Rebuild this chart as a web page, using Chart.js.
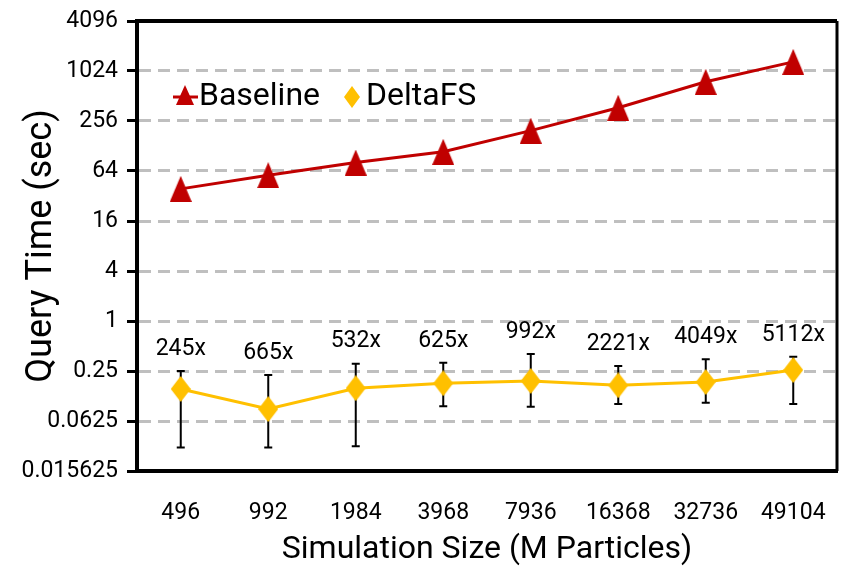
<!DOCTYPE html>
<html>
<head>
<meta charset="utf-8">
<script src="https://cdn.jsdelivr.net/npm/chart.js@4"></script>
<style>
  html, body { margin: 0; padding: 0; background: #fff; }
  #wrap { width: 844px; height: 571px; }
</style>
</head>
<body>
<div id="wrap"><canvas id="chart" width="844" height="571"></canvas></div>
<script>
// Data
const sizes = ["496", "992", "1984", "3968", "7936", "16368", "32736", "49104"];
const baseline = [39, 57, 81, 109, 196, 370, 760, 1320];
const deltafs = [0.152, 0.087, 0.155, 0.178, 0.19, 0.168, 0.184, 0.257];
const deltaLow = [0.030, 0.030, 0.031, 0.094, 0.093, 0.10, 0.104, 0.10];
const deltaHigh = [0.25, 0.224, 0.306, 0.314, 0.40, 0.287, 0.346, 0.37];
const speedups = ["245x", "665x", "532x", "625x", "992x", "2221x", "4049x", "5112x"];
const yTicks = [0.015625, 0.0625, 0.25, 1, 4, 16, 64, 256, 1024, 4096];

const RED = "#C00000";
const YELLOW = "#FFC000";
const FONT = "Roboto, 'Liberation Sans', sans-serif";

// marker images
function makeTriangle(w, h, color) {
  const c = document.createElement("canvas");
  c.width = w; c.height = h;
  const g = c.getContext("2d");
  g.fillStyle = color;
  g.beginPath();
  g.moveTo(w / 2, 0);
  g.lineTo(w, h);
  g.lineTo(0, h);
  g.closePath();
  g.fill();
  return c;
}

function makeDiamond(w, h, color) {
  const c = document.createElement("canvas");
  c.width = w; c.height = h;
  const g = c.getContext("2d");
  g.fillStyle = color;
  g.beginPath();
  g.moveTo(w / 2, 0);
  g.lineTo(w, h / 2);
  g.lineTo(w / 2, h);
  g.lineTo(0, h / 2);
  g.closePath();
  g.fill();
  return c;
}

const triMark = makeTriangle(22, 26, RED);
const diaMark = makeDiamond(20, 26, YELLOW);
const triLegend = makeTriangle(18, 20, RED);
const diaLegend = makeDiamond(16, 22, YELLOW);

// error bars under the markers
const errorBars = {
  id: "errorBars",
  beforeDatasetsDraw(chart) {
    const ctx = chart.ctx;
    const x = chart.scales.x;
    const y = chart.scales.y;
    ctx.save();
    ctx.strokeStyle = "#000";
    ctx.lineWidth = 2;
    sizes.forEach((s, i) => {
      const px = x.getPixelForValue(i);
      const top = y.getPixelForValue(deltaHigh[i]);
      const bot = y.getPixelForValue(deltaLow[i]);
      ctx.beginPath();
      ctx.moveTo(px, top); ctx.lineTo(px, bot);
      ctx.moveTo(px - 4, top); ctx.lineTo(px + 4, top);
      ctx.moveTo(px - 4, bot); ctx.lineTo(px + 4, bot);
      ctx.stroke();
    });
    ctx.restore();
  }
};

// speedup labels, frame and legend
const overlay = {
  id: "overlay",
  afterDatasetsDraw(chart) {
    const ctx = chart.ctx;
    const x = chart.scales.x;
    const y = chart.scales.y;
    const a = chart.chartArea;
    ctx.save();

    ctx.fillStyle = "#000";
    ctx.font = "23px " + FONT;
    ctx.textAlign = "center";
    ctx.textBaseline = "middle";
    speedups.forEach((t, i) => {
      ctx.fillText(t, x.getPixelForValue(i), y.getPixelForValue(deltaHigh[i]) - 22);
    });

    // frame
    ctx.strokeStyle = "#000";
    ctx.lineWidth = 4;
    ctx.beginPath();
    ctx.moveTo(a.left, a.top); ctx.lineTo(a.right, a.top);
    ctx.stroke();
    ctx.lineWidth = 3;
    ctx.beginPath();
    ctx.moveTo(a.right, a.top); ctx.lineTo(a.right, a.bottom);
    ctx.stroke();

    // legend
    const ly = 97;
    ctx.strokeStyle = RED;
    ctx.lineWidth = 3;
    ctx.beginPath();
    ctx.moveTo(173, ly); ctx.lineTo(198, ly);
    ctx.stroke();
    ctx.drawImage(triLegend, 185 - 9, ly - 12);
    ctx.drawImage(diaLegend, 352 - 8, ly - 11);
    ctx.font = "32px " + FONT;
    ctx.textAlign = "left";
    ctx.fillStyle = "#000";
    ctx.fillText("Baseline", 199, ly);
    ctx.fillText("DeltaFS", 366, ly);
    ctx.restore();
  }
};

new Chart(document.getElementById("chart"), {
  type: "line",
  data: {
    labels: sizes,
    datasets: [
      {
        label: "Baseline",
        data: baseline,
        borderColor: RED,
        backgroundColor: RED,
        borderWidth: 3,
        pointStyle: triMark,
        tension: 0
      },
      {
        label: "DeltaFS",
        data: deltafs,
        borderColor: YELLOW,
        backgroundColor: YELLOW,
        borderWidth: 3,
        pointStyle: diaMark,
        tension: 0
      }
    ]
  },
  options: {
    responsive: false,
    animation: false,
    layout: { padding: { top: 21, right: 7, left: 0, bottom: 0 } },
    plugins: {
      legend: { display: false },
      tooltip: { enabled: false }
    },
    scales: {
      x: {
        offset: true,
        grid: {
          display: true,
          drawOnChartArea: false,
          drawTicks: true,
          tickLength: 26,
          tickColor: "rgba(0,0,0,0)"
        },
        border: { display: true, color: "#000", width: 4 },
        ticks: {
          color: "#000",
          font: { family: FONT, size: 23 },
          padding: 2,
          maxRotation: 0
        },
        title: {
          display: true,
          text: "Simulation Size (M Particles)",
          color: "#000",
          font: { family: FONT, size: 32 },
          padding: { top: 0, bottom: 2 }
        },
        afterFit: (s) => { s.height = 100; }
      },
      y: {
        type: "logarithmic",
        min: 0.015625,
        max: 4096,
        afterBuildTicks: (s) => {
          s.ticks = yTicks.map((v) => ({ value: v }));
        },
        ticks: {
          color: "#000",
          font: { family: FONT, size: 23, lineHeight: 1 },
          padding: 9,
          callback: (v) => String(v)
        },
        grid: {
          color: "#BFBFBF",
          lineWidth: 3,
          tickLength: 10,
          tickColor: "#000",
          tickWidth: 3
        },
        border: { display: true, color: "#000", width: 4, dash: [12, 7] },
        title: {
          display: true,
          text: "Query Time (sec)",
          color: "#000",
          font: { family: FONT, size: 36 },
          padding: { top: 20, bottom: 0 }
        },
        afterFit: (s) => { s.width = 137; }
      }
    }
  },
  plugins: [errorBars, overlay]
});
</script>
</body>
</html>
